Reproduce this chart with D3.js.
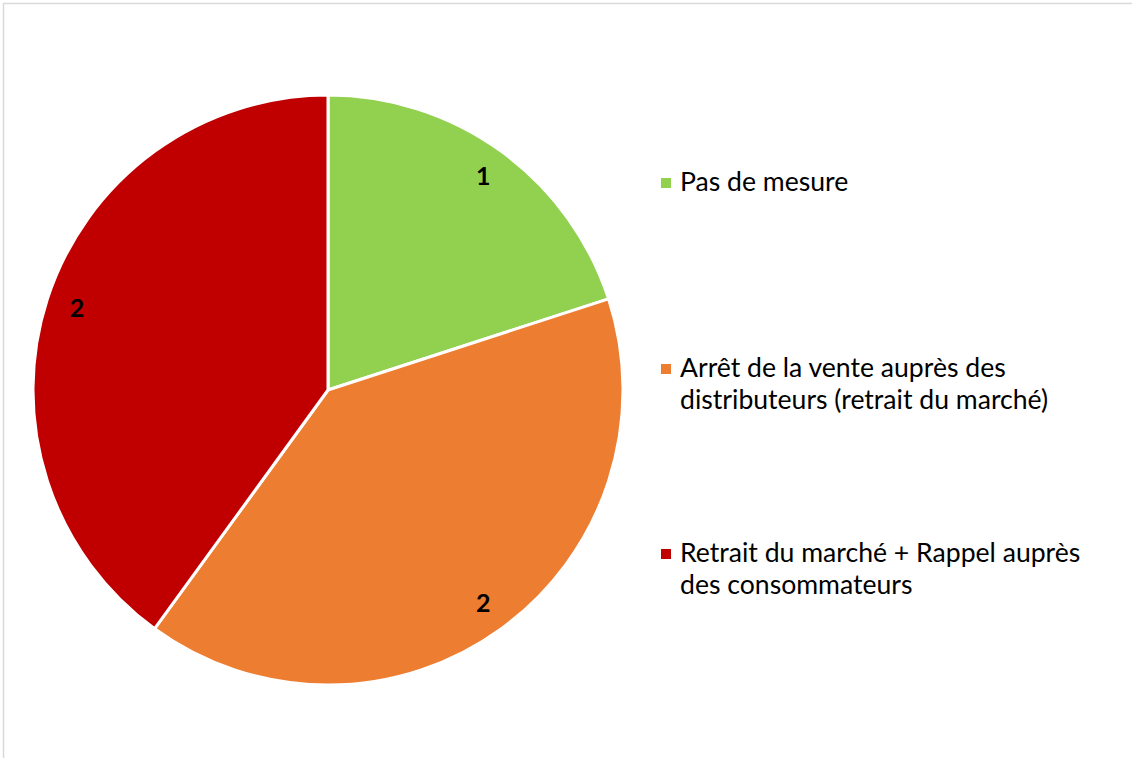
<!DOCTYPE html>
<html lang="fr">
<head>
<meta charset="utf-8">
<title>Mesures</title>
<script src="https://cdn.jsdelivr.net/npm/d3@7"></script>
<style>
    body { margin: 0; background: #fff; }
    text { font-family: Lato, "Open Sans", sans-serif; }
    .lbl { font-size: 25px; font-weight: bold; fill: #000; }
    .leg { font-size: 26.6px; fill: #000; }
</style>
</head>
<body>
<div id="chart"></div>
<script>
    // data
    var categories = ["Pas de mesure",
                      "Arrêt de la vente auprès des distributeurs (retrait du marché)",
                      "Retrait du marché + Rappel auprès des consommateurs"];
    var values = [1, 2, 2];
    var legendLines = [["Pas de mesure"],
                       ["Arrêt de la vente auprès des", "distributeurs (retrait du marché)"],
                       ["Retrait du marché + Rappel auprès", "des consommateurs"]];
    var colors = ["#92d050", "#ed7d31", "#c00000"];

    var W = 1132, H = 758;
    var cx = 328, cy = 390, R = 295;

    var svg = d3.select("#chart").append("svg")
        .attr("width", W).attr("height", H);

    // frame
    svg.append("rect")
        .attr("x", 3.5).attr("y", 3.5)
        .attr("width", W + 10).attr("height", H + 10)
        .attr("fill", "none").attr("stroke", "#d9d9d9").attr("stroke-width", 1.5);

    var data = categories.map(function(c, i) { return {name: c, value: values[i], color: colors[i]} });

    var pie = d3.pie().sort(null).value(function(d) { return d.value });
    var arc = d3.arc().innerRadius(0).outerRadius(R);
    var labelArc = d3.arc().innerRadius(264).outerRadius(264);

    var g = svg.append("g").attr("transform", "translate(" + cx + "," + cy + ")");
    var arcs = pie(data);

    g.selectAll("path")
        .data(arcs)
        .enter()
        .append("path")
            .attr("d", arc)
            .attr("fill", function(d) { return d.data.color })
            .attr("stroke", "#fff")
            .attr("stroke-width", 3)
            .attr("stroke-linejoin", "round");

    g.selectAll(".lbl")
        .data(arcs)
        .enter()
        .append("text")
            .attr("class", "lbl")
            .attr("transform", function(d) { return "translate(" + labelArc.centroid(d) + ")" })
            .attr("text-anchor", "middle")
            .attr("dy", "0.35em")
            .text(function(d) { return d.data.value });

    // legend
    var legendY = [191, 377, 562];
    var leg = svg.selectAll(".legitem")
        .data(data)
        .enter()
        .append("g")
            .attr("class", "legitem")
            .attr("transform", function(d, i) { return "translate(661," + legendY[i] + ")" });

    leg.append("rect")
        .attr("x", 0).attr("y", -13)
        .attr("width", 10).attr("height", 10)
        .attr("fill", function(d) { return d.color });

    leg.append("text")
        .attr("class", "leg")
        .selectAll("tspan")
        .data(function(d, i) { return legendLines[i] })
        .enter()
        .append("tspan")
            .attr("x", 19)
            .attr("y", function(d, j) { return j * 32 })
            .text(function(d) { return d });
</script>
</body>
</html>
